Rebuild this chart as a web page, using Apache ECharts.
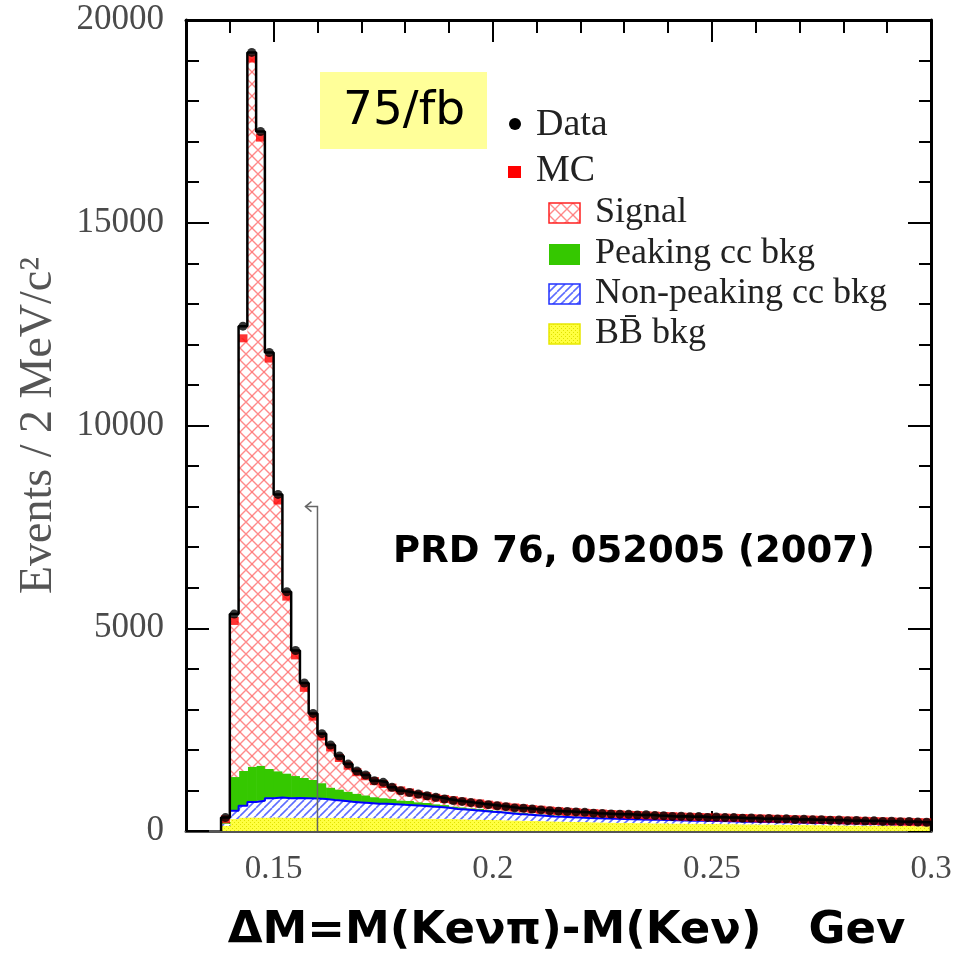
<!DOCTYPE html>
<html>
<head>
<meta charset="utf-8">
<script src="https://cdn.jsdelivr.net/npm/echarts@6/dist/echarts.min.js"></script>
<style>
  html, body { margin: 0; padding: 0; background: #fff; }
  #chart { width: 959px; height: 959px; }
</style>
</head>
<body>
<div id="chart"></div>
<script>
// 2 MeV bins starting at 0.138 GeV
var binStart = 0.138;
var binWidth = 0.002;

var dataEvents = [
    330, 5350, 12450, 19200, 17250, 11800, 8300, 5900, 4450, 3650,
    2900, 2400, 2120, 1850, 1650, 1480, 1380, 1240, 1200, 1080,
    990, 950, 910, 870, 830, 790, 750, 730, 700, 670,
    650, 620, 600, 570, 560, 540, 520, 500, 490, 480,
    470, 460, 440, 430, 420, 415, 410, 395, 400, 380,
    375, 360, 365, 350, 355, 335, 345, 330, 330, 315,
    320, 305, 310, 295, 300, 285, 290, 275, 280, 265,
    270, 255, 260, 245, 250, 235, 240, 230, 235, 220,
    215
];
var signal = [
    70, 3850, 10670, 17465, 15490, 10120, 6675, 4360, 2975, 2220,
    1560, 1150, 990, 775, 640, 530, 470, 395, 350, 280,
    245, 210, 190, 170, 160, 150, 155, 145, 140, 135,
    130, 120, 120, 120, 115, 115, 115, 110, 105, 105,
    105, 100, 95, 90, 95, 90, 85, 85, 80, 85,
    80, 80, 75, 75, 75, 75, 75, 75, 75, 75,
    70, 70, 70, 70, 65, 65, 65, 70, 65, 65,
    65, 65, 60, 60, 55, 55, 55, 50, 45, 45,
    40
];
var peakingCC = [
    40, 830, 860, 870, 865, 720, 650, 610, 540, 500,
    460, 390, 305, 280, 250, 215, 190, 160, 140, 130,
    110, 105, 90, 85, 70, 65, 60, 55, 50, 50,
    45, 45, 40, 40, 40, 35, 35, 35, 35, 30,
    30, 30, 30, 30, 25, 25, 25, 25, 25, 20,
    20, 20, 20, 20, 20, 20, 15, 15, 15, 15,
    15, 15, 15, 15, 15, 15, 15, 10, 10, 10,
    10, 10, 10, 10, 10, 10, 10, 10, 10, 10,
    10
];
var nonPeakingCC = [
    50, 205, 290, 380, 415, 480, 490, 480, 490, 480,
    470, 465, 440, 425, 395, 385, 370, 360, 350, 345,
    335, 325, 315, 300, 290, 275, 250, 240, 225, 215,
    200, 190, 175, 160, 150, 140, 130, 120, 115, 110,
    105, 100, 100, 100, 95, 95, 90, 90, 85, 85,
    80, 80, 75, 75, 70, 70, 70, 70, 65, 65,
    65, 65, 60, 60, 60, 60, 55, 55, 55, 55,
    50, 50, 50, 50, 50, 45, 45, 45, 45, 45,
    45
];
var bbbar = [
    130, 295, 330, 335, 330, 330, 335, 330, 325, 330,
    330, 325, 325, 320, 325, 320, 320, 315, 320, 315,
    310, 310, 305, 305, 300, 300, 295, 290, 285, 280,
    275, 270, 265, 260, 255, 250, 245, 240, 235, 230,
    225, 220, 215, 210, 205, 200, 200, 195, 195, 190,
    190, 185, 185, 180, 180, 175, 175, 170, 170, 165,
    165, 160, 160, 155, 155, 150, 150, 145, 145, 140,
    140, 135, 135, 130, 130, 130, 125, 125, 125, 120,
    120
];

var xMajorTicks = [0.15, 0.2, 0.25, 0.3];
var xTickLabels = ['0.15', '0.2', '0.25', '0.3'];
var yTickValues = [0, 5000, 10000, 15000, 20000];
var yTickLabels = ['0', '5000', '10000', '15000', '20000'];
var legendNames = ['Data', 'MC', 'Signal', 'Peaking cc bkg', 'Non-peaking cc bkg', 'BB\u0304 bkg'];
var cutValue = 0.16;      // ΔM selection cut
var cutArrowTop = 8000;

// hatch fills
function makeHatch(size, bg, color, lw, dirs) {
    var c = document.createElement('canvas');
    c.width = size; c.height = size;
    var ctx = c.getContext('2d');
    ctx.fillStyle = bg;
    ctx.fillRect(0, 0, size, size);
    ctx.strokeStyle = color;
    ctx.lineWidth = lw;
    [-size, 0, size].forEach(function (o) {
        ctx.beginPath();
        if (dirs.indexOf('\\') >= 0) { ctx.moveTo(o, 0); ctx.lineTo(o + size, size); }
        if (dirs.indexOf('/') >= 0) { ctx.moveTo(o, size); ctx.lineTo(o + size, 0); }
        ctx.stroke();
    });
    return { image: c, repeat: 'repeat' };
}
function makeDots() {
    var c = document.createElement('canvas');
    c.width = 4; c.height = 4;
    var ctx = c.getContext('2d');
    ctx.fillStyle = '#ffff40';
    ctx.fillRect(0, 0, 4, 4);
    ctx.fillStyle = '#e0e000';
    ctx.fillRect(0, 0, 1, 1);
    ctx.fillRect(2, 2, 1, 1);
    return { image: c, repeat: 'repeat' };
}
var signalFill = makeHatch(12, '#ffffff', 'rgba(255,60,60,0.6)', 1.4, '\\/');
var nonPeakFill = makeHatch(8, '#ffffff', '#5d6dff', 1.6, '/');
var bbFill = makeDots();
var peakColor = '#35c800';

// bin edges and cumulative stack
var lows = [], highs = [], centers = [];
for (var i = 0; i < dataEvents.length; i++) {
    lows.push(+(binStart + i * binWidth).toFixed(3));
    highs.push(+(binStart + (i + 1) * binWidth).toFixed(3));
    centers.push(+(binStart + (i + 0.5) * binWidth).toFixed(4));
}
var layers = [bbbar, nonPeakingCC, peakingCC, signal];
var base = dataEvents.map(function () { return 0; });
var layerData = layers.map(function (vals) {
    return vals.map(function (v, i) {
        var item = [lows[i], highs[i], base[i], base[i] + v];
        base[i] += v;
        return item;
    });
});
var mcTotal = base.slice();
var nonPeakTop = layerData[1].map(function (d) { return d[3]; });

function stepPoints(vals, closeToZero) {
    var pts = [];
    if (closeToZero) pts.push([lows[0], 0]);
    vals.forEach(function (v, i) { pts.push([lows[i], v]); });
    pts.push([highs[vals.length - 1], vals[vals.length - 1]]);
    if (closeToZero) pts.push([highs[vals.length - 1], 0]);
    return pts;
}

function binRect(fill) {
    return function (params, api) {
        var p0 = api.coord([api.value(0), api.value(3)]);
        var p1 = api.coord([api.value(1), api.value(2)]);
        return {
            type: 'rect',
            shape: { x: p0[0], y: p0[1], width: p1[0] - p0[0] + 0.6, height: p1[1] - p0[1] },
            style: { fill: fill }
        };
    };
}

function pickLabel(values, labels) {
    return function (v) {
        var k = values.findIndex(function (t) { return Math.abs(t - v) < 1e-6; });
        return k >= 0 ? labels[k] : '';
    };
}

var myChart = echarts.init(document.getElementById('chart'));
var tickStyle = { color: '#000', width: 2 };

var option = {
    animation: false,
    backgroundColor: '#fff',
    grid: { left: 186, right: 28, top: 20, bottom: 127 },
    xAxis: [
        {
            type: 'value', position: 'bottom', min: 0.13, max: 0.3, interval: 0.01,
            axisLine: { lineStyle: { color: '#555', width: 3 } },
            axisTick: { inside: true, length: 10, lineStyle: tickStyle },
            axisLabel: {
                customValues: xMajorTicks, margin: 22,
                formatter: pickLabel(xMajorTicks, xTickLabels),
                fontFamily: 'Liberation Serif', fontSize: 33, color: '#4a4a4a'
            },
            splitLine: { show: false },
            name: 'ΔM=M(Keνπ)-M(Keν)   Gev',
            nameLocation: 'middle', nameGap: 78,
            nameTextStyle: { fontFamily: 'DejaVu Sans', fontWeight: 'bold', fontSize: 45, color: '#000', padding: [0, 0, 0, 16] }
        },
        {
            type: 'value', position: 'bottom', min: 0.13, max: 0.3,
            axisLine: { show: false },
            axisTick: { inside: true, length: 20, customValues: xMajorTicks, lineStyle: tickStyle },
            axisLabel: { show: false }, splitLine: { show: false }
        },
        {
            type: 'value', position: 'top', min: 0.13, max: 0.3, interval: 0.01,
            axisLine: { lineStyle: { color: '#000', width: 3 } },
            axisTick: { inside: true, length: 13, lineStyle: tickStyle },
            axisLabel: { show: false }, splitLine: { show: false }
        },
        {
            type: 'value', position: 'top', min: 0.13, max: 0.3,
            axisLine: { show: false },
            axisTick: { inside: true, length: 22, customValues: xMajorTicks, lineStyle: tickStyle },
            axisLabel: { show: false }, splitLine: { show: false }
        }
    ],
    yAxis: [
        {
            type: 'value', position: 'left', min: 0, max: 20000, interval: 5000,
            axisLine: { show: true, lineStyle: { color: '#000', width: 3 } },
            axisTick: { show: true, inside: true, length: 23, lineStyle: tickStyle },
            minorTick: { show: true, splitNumber: 5, length: 13, lineStyle: tickStyle },
            axisLabel: {
                customValues: yTickValues, margin: 22,
                formatter: pickLabel(yTickValues, yTickLabels),
                fontFamily: 'Liberation Serif', fontSize: 35, color: '#4a4a4a'
            },
            splitLine: { show: false },
            name: 'Events / 2 MeV/c\u00b2',
            nameLocation: 'middle', nameRotate: 90, nameGap: 124,
            nameTextStyle: { fontFamily: 'Liberation Serif', fontSize: 46, color: '#555' }
        },
        {
            type: 'value', position: 'right', min: 0, max: 20000, interval: 5000,
            axisLine: { show: true, lineStyle: { color: '#000', width: 3 } },
            axisTick: { show: true, inside: true, length: 23, lineStyle: tickStyle },
            minorTick: { show: true, splitNumber: 5, length: 12, lineStyle: tickStyle },
            axisLabel: { show: false }, splitLine: { show: false }
        }
    ],
    series: [
        { name: 'BB bkg', type: 'custom', renderItem: binRect(bbFill), encode: { x: [0, 1], y: [2, 3] }, data: layerData[0], z: 1, silent: true },
        { name: 'Non-peaking cc bkg', type: 'custom', renderItem: binRect(nonPeakFill), encode: { x: [0, 1], y: [2, 3] }, data: layerData[1], z: 1, silent: true },
        { name: 'Peaking cc bkg', type: 'custom', renderItem: binRect(peakColor), encode: { x: [0, 1], y: [2, 3] }, data: layerData[2], z: 1, silent: true },
        { name: 'Signal', type: 'custom', renderItem: binRect(signalFill), encode: { x: [0, 1], y: [2, 3] }, data: layerData[3], z: 1, silent: true },
        {
            name: 'nonPeakEdge', type: 'line', step: 'end', symbol: 'none', z: 2,
            data: stepPoints(nonPeakTop, false).slice(1),
            lineStyle: { color: '#0000ff', width: 2 }
        },
        {
            name: 'cut', type: 'custom', z: 3, silent: true,
            encode: { x: 0, y: 1 },
            data: [[cutValue, cutArrowTop]],
            renderItem: function (params, api) {
                var pb = api.coord([api.value(0), 0]);
                var pt = api.coord([api.value(0), api.value(1)]);
                var st = { stroke: '#666', lineWidth: 1.5, fill: null };
                return {
                    type: 'group',
                    children: [
                        { type: 'polyline', shape: { points: [pb, pt, [pt[0] - 12, pt[1]]] }, style: st },
                        { type: 'polyline', shape: { points: [[pt[0] - 6, pt[1] - 5], [pt[0] - 12, pt[1]], [pt[0] - 6, pt[1] + 5]] }, style: st }
                    ]
                };
            }
        },
        {
            name: 'MC', type: 'scatter', z: 4, symbol: 'rect', symbolSize: [9, 8],
            itemStyle: { color: '#ff0000' },
            data: mcTotal.map(function (v, i) { return [centers[i], v]; })
        },
        {
            name: 'outline', type: 'line', step: 'end', symbol: 'none', z: 5,
            data: stepPoints(dataEvents, true),
            lineStyle: { color: '#000', width: 2.5 }
        },
        {
            name: 'Data', type: 'scatter', z: 6, symbol: 'circle', symbolSize: 9,
            itemStyle: { color: '#000' },
            data: dataEvents.map(function (v, i) { return [centers[i], v]; })
        }
    ],
    graphic: [
        { type: 'rect', x: 320, y: 72, shape: { width: 167, height: 77 }, style: { fill: '#ffff99' }, z: 10 },
        { type: 'text', x: 404, y: 112, z: 11, style: { text: '75/fb', font: '47px "DejaVu Sans"', fill: '#000', textAlign: 'center', textVerticalAlign: 'middle' } },
        { type: 'text', x: 634, y: 552, z: 11, style: { text: 'PRD 76, 052005 (2007)', font: 'bold 37px "DejaVu Sans"', fill: '#000', textAlign: 'center', textVerticalAlign: 'middle' } },

        { type: 'circle', x: 515, y: 124, shape: { r: 6 }, style: { fill: '#000' }, z: 10 },
        { type: 'rect', x: 508, y: 166, shape: { width: 13, height: 12 }, style: { fill: '#ff0000' }, z: 10 },
        { type: 'rect', x: 549, y: 203, shape: { width: 31, height: 20 }, style: { fill: signalFill, stroke: '#ff2020', lineWidth: 1.5 }, z: 10 },
        { type: 'rect', x: 549, y: 244, shape: { width: 31, height: 21 }, style: { fill: peakColor }, z: 10 },
        { type: 'rect', x: 549, y: 284, shape: { width: 31, height: 20 }, style: { fill: nonPeakFill, stroke: '#2030ff', lineWidth: 1.5 }, z: 10 },
        { type: 'rect', x: 549, y: 324, shape: { width: 31, height: 20 }, style: { fill: bbFill, stroke: '#e8e800', lineWidth: 1.5 }, z: 10 },

        { type: 'text', x: 536, y: 125, z: 11, style: { text: legendNames[0], font: '38px "Liberation Serif"', fill: '#222', textVerticalAlign: 'middle' } },
        { type: 'text', x: 536, y: 171, z: 11, style: { text: legendNames[1], font: '38px "Liberation Serif"', fill: '#222', textVerticalAlign: 'middle' } },
        { type: 'text', x: 595, y: 213, z: 11, style: { text: legendNames[2], font: '36px "Liberation Serif"', fill: '#222', textVerticalAlign: 'middle' } },
        { type: 'text', x: 595, y: 254, z: 11, style: { text: legendNames[3], font: '36px "Liberation Serif"', fill: '#222', textVerticalAlign: 'middle' } },
        { type: 'text', x: 595, y: 294, z: 11, style: { text: legendNames[4], font: '36px "Liberation Serif"', fill: '#222', textVerticalAlign: 'middle' } },
        { type: 'text', x: 595, y: 334, z: 11, style: { text: legendNames[5], font: '36px "Liberation Serif"', fill: '#222', textVerticalAlign: 'middle' } }
    ]
};
myChart.setOption(option);
</script>
</body>
</html>
